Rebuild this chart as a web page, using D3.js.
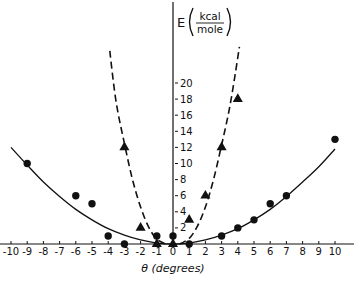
<!DOCTYPE html>
<html>
<head>
<meta charset="utf-8">
<script src="https://cdn.jsdelivr.net/npm/d3@7"></script>
<style>
  body { margin: 0; background: #fff; }
  svg text { font-family: "DejaVu Sans", sans-serif; fill: #111; }
</style>
</head>
<body>
<svg id="chart" width="354" height="282"></svg>
<script>
// Data
const xTicks = [-10, -9, -8, -7, -6, -5, -4, -3, -2, -1, 0, 1, 2, 3, 4, 5, 6, 7, 8, 9, 10];
const yTicks = [2, 4, 6, 8, 10, 12, 14, 16, 18, 20];

const circleTheta = [-9, -6, -5, -4, -3, -1, 0, 1, 3, 4, 5, 6, 7, 10];
const circleE     = [10, 6, 5, 1, 0, 1, 1, 0, 1, 2, 3, 5, 6, 13];

const triTheta = [-3, -2, -1, 0, 1, 2, 3, 4];
const triE     = [12, 2, 0, 0, 3, 6, 12, 18];

// solid fitted curve
const solidTheta = [-10, -9, -8, -7, -6, -5, -4, -3, -2, -1, 0, 1, 2, 3, 4, 5, 6, 7, 8, 9, 10];
const solidE     = [12, 9.8, 7.7, 5.9, 4.3, 3.0, 1.9, 1.1, 0.5, 0.12, 0, 0.12, 0.5, 1.1, 1.9, 3.0, 4.3, 5.9, 7.7, 9.6, 11.8];

// dashed curves (two branches)
const dashLeftTheta = [-3.9, -3.5, -3, -2.5, -2, -1.5, -1, -0.45];
const dashLeftE     = [24, 17.5, 12.5, 8, 4.6, 2.1, 0.6, 0];
const dashRightTheta = [0.4, 1, 1.5, 2, 2.5, 3, 3.5, 4.1];
const dashRightE     = [0, 0.7, 2.2, 4.6, 8, 12.3, 17, 24.5];

const svg = d3.select('#chart');

const x = d3.scaleLinear().domain([-10, 10]).range([11, 335]);
const y = d3.scaleLinear().domain([0, 20]).range([244, 83]);

// x axis line across the whole width
svg.append('line')
  .attr('x1', 0).attr('x2', 354)
  .attr('y1', y(0)).attr('y2', y(0))
  .attr('stroke', '#111').attr('stroke-width', 1.2);

// y axis line
svg.append('line')
  .attr('x1', x(0)).attr('x2', x(0))
  .attr('y1', 2).attr('y2', y(0))
  .attr('stroke', '#111').attr('stroke-width', 1.2);

// x ticks (small, pointing up) and labels
svg.selectAll('.xtick')
  .data(xTicks)
  .enter()
  .append('line')
  .attr('x1', d => x(d)).attr('x2', d => x(d))
  .attr('y1', y(0)).attr('y2', y(0) - 3)
  .attr('stroke', '#111');

svg.selectAll('.xlabel')
  .data(xTicks)
  .enter()
  .append('text')
  .attr('x', d => x(d))
  .attr('y', y(0) + 11)
  .attr('text-anchor', 'middle')
  .attr('font-size', 10)
  .text(d => d);

// y ticks and labels
svg.selectAll('.ytick')
  .data(yTicks)
  .enter()
  .append('line')
  .attr('x1', x(0) + 2).attr('x2', x(0) + 5)
  .attr('y1', d => y(d)).attr('y2', d => y(d))
  .attr('stroke', '#111');

svg.selectAll('.ylabel')
  .data(yTicks)
  .enter()
  .append('text')
  .attr('x', x(0) + 7)
  .attr('y', d => y(d) + 3.5)
  .attr('font-size', 10)
  .text(d => d);

// axis titles
const yt = svg.append('g').attr('transform', 'translate(' + (x(0) + 4) + ',0)');
yt.append('text').attr('x', 0).attr('y', 27).attr('font-size', 13).text('E');
// tall brackets around the unit fraction
yt.append('path').attr('d', 'M16,8 Q9,22 16,36')
  .attr('fill', 'none').attr('stroke', '#111').attr('stroke-width', 1.4);
yt.append('path').attr('d', 'M50,8 Q57,22 50,36')
  .attr('fill', 'none').attr('stroke', '#111').attr('stroke-width', 1.4);
yt.append('text').attr('x', 33).attr('y', 20).attr('font-size', 10.5)
  .attr('text-anchor', 'middle').text('kcal');
yt.append('line').attr('x1', 19).attr('x2', 47).attr('y1', 23).attr('y2', 23)
  .attr('stroke', '#111').attr('stroke-width', 0.9);
yt.append('text').attr('x', 33).attr('y', 33).attr('font-size', 10.5)
  .attr('text-anchor', 'middle').text('mole');

svg.append('text')
  .attr('x', x(0))
  .attr('y', 272)
  .attr('text-anchor', 'middle')
  .attr('font-size', 11)
  .attr('font-style', 'italic')
  .text('θ (degrees)');

// curves
const line = d3.line()
  .x(d => x(d[0]))
  .y(d => y(d[1]))
  .curve(d3.curveCatmullRom);

svg.append('path')
  .datum(d3.zip(solidTheta, solidE))
  .attr('d', line)
  .attr('fill', 'none')
  .attr('stroke', '#111')
  .attr('stroke-width', 1.3);

[[dashLeftTheta, dashLeftE], [dashRightTheta, dashRightE]].forEach(([t, e]) => {
  svg.append('path')
    .datum(d3.zip(t, e))
    .attr('d', line)
    .attr('fill', 'none')
    .attr('stroke', '#111')
    .attr('stroke-width', 1.6)
    .attr('stroke-dasharray', '7,4');
});

// markers
svg.selectAll('.dot')
  .data(d3.zip(circleTheta, circleE))
  .enter()
  .append('circle')
  .attr('cx', d => x(d[0]))
  .attr('cy', d => y(d[1]))
  .attr('r', 3.7)
  .attr('fill', '#111');

svg.selectAll('.tri')
  .data(d3.zip(triTheta, triE))
  .enter()
  .append('path')
  .attr('transform', d => 'translate(' + x(d[0]) + ',' + y(d[1]) + ')')
  .attr('d', d3.symbol(d3.symbolTriangle, 44))
  .attr('fill', '#111');
</script>
</body>
</html>
